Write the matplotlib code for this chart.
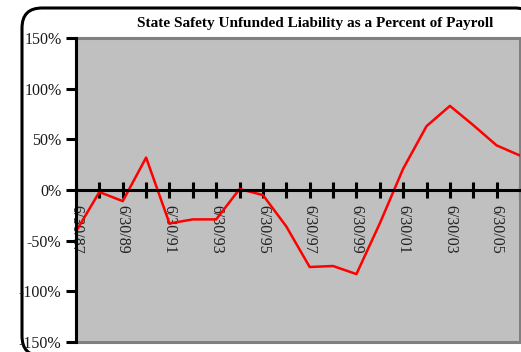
import matplotlib
matplotlib.use("Agg")
import matplotlib.pyplot as plt
from matplotlib.patches import FancyBboxPatch, Rectangle

# Fiscal years (valuation date 6/30) and unfunded liability as % of payroll
years = [1987, 1988, 1989, 1990, 1991, 1992, 1993, 1994, 1995, 1996,
         1997, 1998, 1999, 2000, 2001, 2002, 2003, 2004, 2005, 2006]
pct_of_payroll = [-41, -2, -11, 32, -33, -29, -29, 1, -5, -36,
                  -76, -75, -83, -33, 21, 63, 83, 64, 44, 34]
y_ticks = [-150, -100, -50, 0, 50, 100, 150]
title = "State Safety Unfunded Liability as a Percent of Payroll"

W, H, DPI = 521, 352, 100
fig = plt.figure(figsize=(W / DPI, H / DPI), dpi=DPI)
fig.patch.set_facecolor("white")

# rounded chart frame, drawn in pixel space on a background axes
bg = fig.add_axes([0, 0, 1, 1], zorder=0)
bg.set_xlim(0, W)
bg.set_ylim(H, 0)
bg.axis("off")
frame = FancyBboxPatch((22, 8), 513, 348,
                       boxstyle="round,pad=0,rounding_size=20",
                       facecolor="white", edgecolor="black", linewidth=2.2)
bg.add_patch(frame)

serif = ["Liberation Serif", "DejaVu Serif"]

left, right, top, bottom = 76, 520, 38, 342
ax = fig.add_axes([left / W, 1 - bottom / H, (right - left) / W, (bottom - top) / H],
                  zorder=1)
ax.set_facecolor("#C0C0C0")

x = list(range(len(years)))
ax.plot(x, pct_of_payroll, color="#FF0000", linewidth=1.8, zorder=3)

ax.set_xlim(0, len(years) - 1)
ax.set_ylim(-150, 150)

# gray plot-area border on top, right and bottom
ax.add_patch(Rectangle((0, 0), 1, 1, transform=ax.transAxes, fill=False,
                       edgecolor="#808080", linewidth=2.2, zorder=2, clip_on=False))

for s in ["top", "right"]:
    ax.spines[s].set_visible(False)
ax.spines["left"].set_color("black")
ax.spines["left"].set_linewidth(2.2)
ax.spines["left"].set_zorder(4)
ax.spines["bottom"].set_position(("data", 0))
ax.spines["bottom"].set_color("black")
ax.spines["bottom"].set_linewidth(2.2)
ax.spines["bottom"].set_zorder(4)

ax.set_yticks(y_ticks)
ax.set_yticklabels([f"{v}%" for v in y_ticks], fontfamily=serif, fontsize=11.5)
ax.tick_params(axis="y", direction="out", length=7, width=2.2, pad=3.5,
               colors="black")
for lbl in ax.get_yticklabels():
    lbl.set_color("#1a1a1a")

xlabels = [f"6/30/{y % 100:02d}" if (y - years[0]) % 2 == 0 else "" for y in years]
ax.set_xticks(x)
ax.set_xticklabels(xlabels, rotation=-90, fontfamily=serif, fontsize=11.5,
                   va="top", ha="center")
ax.tick_params(axis="x", direction="inout", length=11, width=2.2, pad=5,
               colors="black")
for lbl in ax.get_xticklabels():
    lbl.set_color("#222222")

fig.text(315 / W, 1 - 24 / H, title, ha="center", va="center",
         fontfamily=serif, fontweight="bold", fontsize=11)

fig.savefig("out.png", dpi=DPI)
